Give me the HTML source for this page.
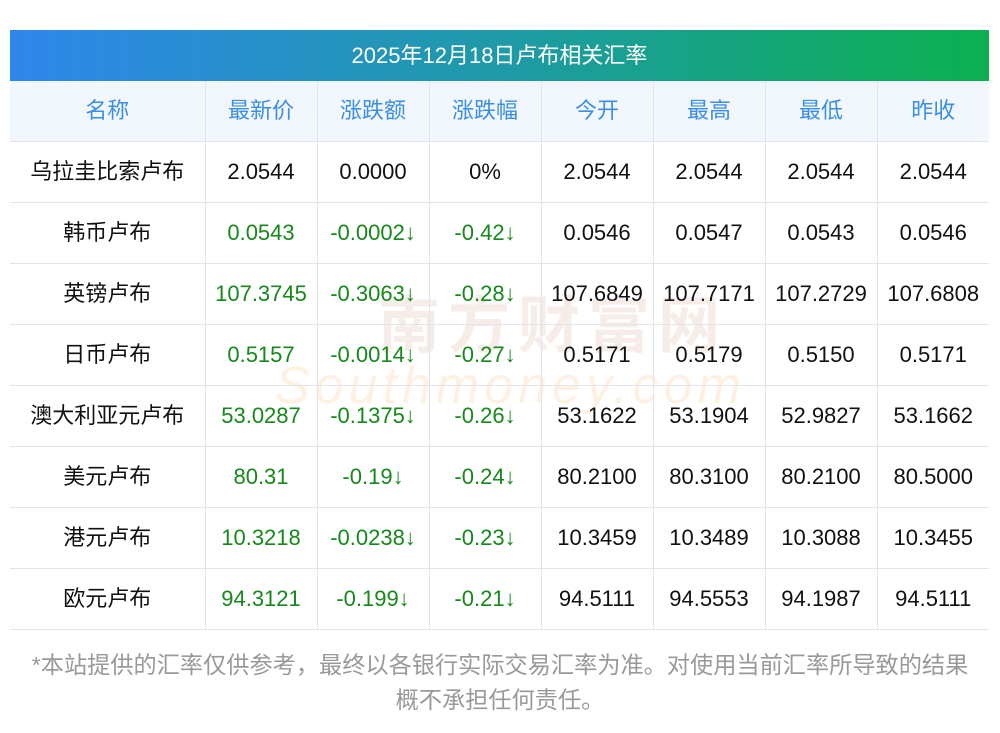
<!DOCTYPE html>
<html><head><meta charset="utf-8"><style>
body{margin:0;background:#fff;width:1000px;height:733px;overflow:hidden;font-family:"Liberation Sans","Noto Sans CJK SC",sans-serif;position:relative}
.bar{position:absolute;left:10px;top:30px;width:979px;height:51px;background:linear-gradient(90deg,#2f86ec,#1f9aa8 50%,#0bb04f);color:#fff;font-size:22px;text-align:center;line-height:51px}
table{position:absolute;left:10px;top:81px;border-collapse:collapse;width:979px;table-layout:fixed}
td{border:1px solid #e2e4ec;height:60px;text-align:center;font-size:22px;line-height:24px;color:#111;padding:0;vertical-align:middle}
tr.h td{background:#f2f7fe;color:#3a8ee6}
tr td:first-child{border-left:none}
tr td:last-child{border-right:none}
tr.h td{border-top:none}
.g{color:#15891a}
.note{position:absolute;left:0;width:1000px;top:648px;text-align:center;color:#999;font-size:23.2px;line-height:35px;white-space:nowrap}
.wm{position:absolute;left:378px;top:296px;font-size:62px;color:rgba(235,215,205,0.45);letter-spacing:8px;font-weight:bold;line-height:62px}
.wm2{position:absolute;left:275px;top:360px;font-size:52px;color:rgba(252,225,190,0.45);font-style:italic;letter-spacing:5px;line-height:52px}
</style></head><body>
<div class="bar">2025年12月18日卢布相关汇率</div>
<div class="wm">南方财富网</div>
<div class="wm2">Southmoney.com</div>
<table>
<colgroup><col style="width:195px"><col style="width:112px"><col style="width:112px"><col style="width:112px"><col style="width:112px"><col style="width:112px"><col style="width:112px"><col style="width:112px"></colgroup>
<tr class="h"><td>名称</td><td>最新价</td><td>涨跌额</td><td>涨跌幅</td><td>今开</td><td>最高</td><td>最低</td><td>昨收</td></tr>
<tr><td>乌拉圭比索卢布</td><td>2.0544</td><td>0.0000</td><td>0%</td><td>2.0544</td><td>2.0544</td><td>2.0544</td><td>2.0544</td></tr>
<tr><td>韩币卢布</td><td class="g">0.0543</td><td class="g">-0.0002↓</td><td class="g">-0.42↓</td><td>0.0546</td><td>0.0547</td><td>0.0543</td><td>0.0546</td></tr>
<tr><td>英镑卢布</td><td class="g">107.3745</td><td class="g">-0.3063↓</td><td class="g">-0.28↓</td><td>107.6849</td><td>107.7171</td><td>107.2729</td><td>107.6808</td></tr>
<tr><td>日币卢布</td><td class="g">0.5157</td><td class="g">-0.0014↓</td><td class="g">-0.27↓</td><td>0.5171</td><td>0.5179</td><td>0.5150</td><td>0.5171</td></tr>
<tr><td>澳大利亚元卢布</td><td class="g">53.0287</td><td class="g">-0.1375↓</td><td class="g">-0.26↓</td><td>53.1622</td><td>53.1904</td><td>52.9827</td><td>53.1662</td></tr>
<tr><td>美元卢布</td><td class="g">80.31</td><td class="g">-0.19↓</td><td class="g">-0.24↓</td><td>80.2100</td><td>80.3100</td><td>80.2100</td><td>80.5000</td></tr>
<tr><td>港元卢布</td><td class="g">10.3218</td><td class="g">-0.0238↓</td><td class="g">-0.23↓</td><td>10.3459</td><td>10.3489</td><td>10.3088</td><td>10.3455</td></tr>
<tr><td>欧元卢布</td><td class="g">94.3121</td><td class="g">-0.199↓</td><td class="g">-0.21↓</td><td>94.5111</td><td>94.5553</td><td>94.1987</td><td>94.5111</td></tr>
</table>
<div class="note">*本站提供的汇率仅供参考，最终以各银行实际交易汇率为准。对使用当前汇率所导致的结果<br>概不承担任何责任。</div>
</body></html>
